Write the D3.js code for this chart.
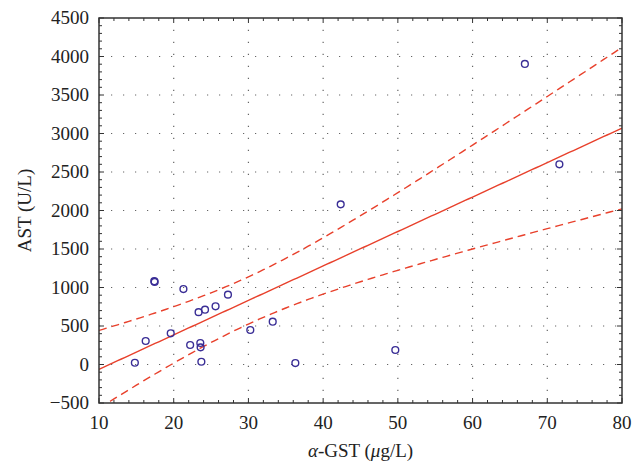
<!DOCTYPE html>
<html>
<head>
<meta charset="utf-8">
<script src="https://cdn.jsdelivr.net/npm/d3@7"></script>
<style>
  body { margin: 0; background: #fff; }
  text { font-family: "Liberation Serif", "DejaVu Serif", serif; fill: #222; }
</style>
</head>
<body>
<div class="chart"></div>
<script>
// alpha-GST vs AST
var gstValues = [14.8, 16.25, 17.4, 17.45, 19.6, 21.3, 22.2, 23.33, 24.19, 23.56, 23.6, 23.7, 25.6, 27.26, 30.25, 33.25, 36.28, 42.35, 49.66, 67.0, 71.62];
var astValues = [23, 305, 1082, 1072, 405, 980, 253, 680, 712, 279, 223, 36, 756, 907, 448, 556, 19, 2080, 188, 3903, 2600];

var xTicks = [10, 20, 30, 40, 50, 60, 70, 80];
var yTicks = [-500, 0, 500, 1000, 1500, 2000, 2500, 3000, 3500, 4000, 4500];
var tCrit = 2.093; // 95%, df = 19

var width = 643, height = 463;
var margin = {left: 99, right: 21, top: 18, bottom: 60};

var svg = d3.select(".chart").append("svg")
  .attr("width", width)
  .attr("height", height);

var x = d3.scaleLinear().domain([10, 80]).range([margin.left, width - margin.right]);
var y = d3.scaleLinear().domain([-500, 4500]).range([height - margin.bottom, margin.top]);

var clip = svg.append("clipPath").attr("id", "plotclip").append("rect")
  .attr("x", x(10)).attr("y", y(4500))
  .attr("width", x(80) - x(10)).attr("height", y(-500) - y(4500));

// grid
var grid = svg.append("g").attr("stroke", "#666").attr("stroke-width", 1.2)
  .attr("stroke-dasharray", "1.2,10.8");
grid.selectAll(".gx").data(xTicks.slice(1, -1)).enter().append("line")
  .attr("x1", function(d) { return x(d); }).attr("x2", function(d) { return x(d); })
  .attr("y1", y(-500)).attr("y2", y(4500));
grid.selectAll(".gy").data(yTicks.slice(1, -1)).enter().append("line")
  .attr("y1", function(d) { return y(d); }).attr("y2", function(d) { return y(d); })
  .attr("x1", x(10)).attr("x2", x(80));

// regression + 95% confidence band
var n = gstValues.length;
var mx = d3.mean(gstValues), my = d3.mean(astValues);
var sxx = d3.sum(gstValues, function(v) { return (v - mx) * (v - mx); });
var sxy = d3.sum(gstValues, function(v, i) { return (v - mx) * (astValues[i] - my); });
var slope = sxy / sxx, intercept = my - slope * mx;
var sse = d3.sum(gstValues, function(v, i) {
  var r = astValues[i] - (intercept + slope * v);
  return r * r;
});
var s = Math.sqrt(sse / (n - 2));

var xs = d3.range(10, 80.01, 0.5);
function band(sign) {
  return xs.map(function(v) {
    var h = tCrit * s * Math.sqrt(1 / n + (v - mx) * (v - mx) / sxx);
    return [v, intercept + slope * v + sign * h];
  });
}
var line = d3.line().x(function(d) { return x(d[0]); }).y(function(d) { return y(d[1]); });

var fits = svg.append("g").attr("clip-path", "url(#plotclip)")
  .attr("fill", "none").attr("stroke", "#e8412c").attr("stroke-width", 1.4);
fits.append("path").attr("d", line(xs.map(function(v) { return [v, intercept + slope * v]; })));
fits.append("path").attr("d", line(band(1))).attr("stroke-dasharray", "8,5");
fits.append("path").attr("d", line(band(-1))).attr("stroke-dasharray", "8,5");

// points
svg.append("g").selectAll("circle").data(gstValues).enter().append("circle")
  .attr("cx", function(d) { return x(d); })
  .attr("cy", function(d, i) { return y(astValues[i]); })
  .attr("r", 3.4)
  .attr("fill", "none")
  .attr("stroke", "#3a2e96")
  .attr("stroke-width", 1.4);

// frame with inward ticks
var axisColor = "#333";
svg.append("rect")
  .attr("x", x(10)).attr("y", y(4500))
  .attr("width", x(80) - x(10)).attr("height", y(-500) - y(4500))
  .attr("fill", "none").attr("stroke", axisColor).attr("stroke-width", 1.5);

var xMinor = d3.range(10, 80.01, 2);
var yMinor = d3.range(-500, 4500.01, 100);
var ticks = svg.append("g").attr("stroke", axisColor).attr("stroke-width", 1);
[y(-500), y(4500)].forEach(function(edge, k) {
  var dir = k === 0 ? -1 : 1;
  ticks.selectAll(null).data(xMinor).enter().append("line")
    .attr("x1", function(d) { return x(d); }).attr("x2", function(d) { return x(d); })
    .attr("y1", edge).attr("y2", function(d) { return edge + dir * (d % 10 === 0 ? 5 : 3); });
});
[x(10), x(80)].forEach(function(edge, k) {
  var dir = k === 0 ? 1 : -1;
  ticks.selectAll(null).data(yMinor).enter().append("line")
    .attr("y1", function(d) { return y(d); }).attr("y2", function(d) { return y(d); })
    .attr("x1", edge).attr("x2", function(d) { return edge + dir * (d % 500 === 0 ? 5 : 3); });
});

// tick labels
svg.append("g").selectAll("text").data(xTicks).enter().append("text")
  .attr("x", function(d) { return x(d); })
  .attr("y", y(-500) + 26)
  .attr("text-anchor", "middle")
  .attr("font-size", 19)
  .text(function(d) { return d; });

svg.append("g").selectAll("text").data(yTicks).enter().append("text")
  .attr("x", x(10) - 10)
  .attr("y", function(d) { return y(d) + 6; })
  .attr("text-anchor", "end")
  .attr("font-size", 19)
  .text(function(d) { return d < 0 ? "\u2212" + Math.abs(d) : d; });

// axis titles
var xt = svg.append("text")
  .attr("x", (x(10) + x(80)) / 2)
  .attr("y", y(-500) + 54)
  .attr("text-anchor", "middle")
  .attr("font-size", 19);
xt.append("tspan").attr("font-style", "italic").text("\u03b1");
xt.append("tspan").text("-GST (");
xt.append("tspan").attr("font-style", "italic").text("\u03bc");
xt.append("tspan").text("g/L)");

svg.append("text")
  .attr("transform", "translate(31," + ((y(-500) + y(4500)) / 2) + ") rotate(-90)")
  .attr("text-anchor", "middle")
  .attr("font-size", 19)
  .text("AST (U/L)");
</script>
</body>
</html>
